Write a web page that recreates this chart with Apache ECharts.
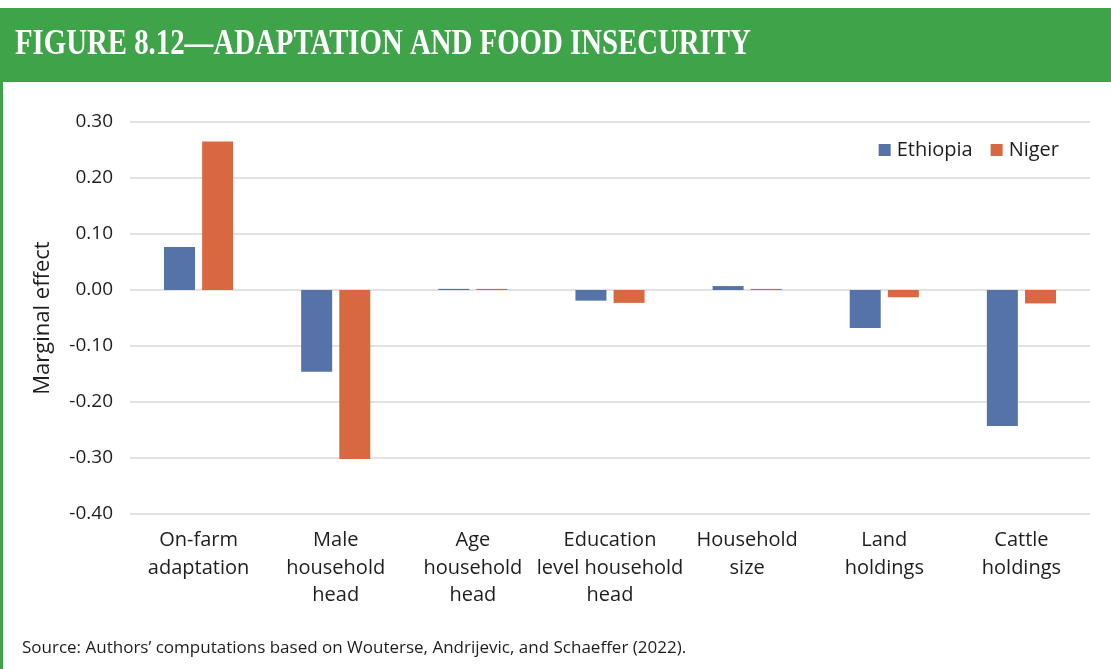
<!DOCTYPE html>
<html>
<head>
<meta charset="utf-8">
<script src="https://cdn.jsdelivr.net/npm/echarts@6/dist/echarts.min.js"></script>
<style>
  html, body { margin: 0; padding: 0; background: #ffffff; }
  #chart { width: 1111px; height: 669px; }
</style>
</head>
<body>
<div id="chart"></div>
<script>
// Determinants of food insecurity: marginal effects by country
const categories = [
  'On-farm\nadaptation',
  'Male\nhousehold\nhead',
  'Age\nhousehold\nhead',
  'Education\nlevel household\nhead',
  'Household\nsize',
  'Land\nholdings',
  'Cattle\nholdings'
];
const ethiopia = [0.077, -0.146, 0.002, -0.019, 0.007, -0.068, -0.243];
const niger    = [0.265, -0.302, 0.002, -0.023, 0.002, -0.013, -0.024];
const yTicks = { min: -0.4, max: 0.3, interval: 0.1 };

const titleText = 'FIGURE 8.12\u2014ADAPTATION AND FOOD INSECURITY';
const sourceText = 'Source: Authors\u2019 computations based on Wouterse, Andrijevic, and Schaeffer (2022).';

const GREEN = '#3fa34a';
const BLUE = '#5572a9';
const ORANGE = '#d86840';
const INK = '#1e1e1e';
const SANS = '"Open Sans", "Noto Sans", sans-serif';

const chart = echarts.init(document.getElementById('chart'), null, { renderer: 'canvas' });

chart.setOption({
  backgroundColor: '#ffffff',
  animation: false,
  graphic: [
    { type: 'rect', left: 0, top: 8, shape: { width: 1111, height: 74 }, style: { fill: GREEN }, z: 0 },
    { type: 'rect', left: 0, top: 82, shape: { width: 3, height: 587 }, style: { fill: GREEN }, z: 0 },
    {
      type: 'text', x: 15, y: 27, scaleX: 0.8,
      style: {
        text: titleText, fill: '#ffffff',
        font: 'bold 36px "Liberation Serif", "DejaVu Serif", serif'
      }, z: 2
    },
    {
      type: 'text', left: 22, top: 640,
      style: { text: sourceText, fill: INK, font: '17px ' + SANS }, z: 2
    }
  ],
  legend: {
    right: 47, top: 135,
    itemWidth: 12, itemHeight: 12, itemGap: 18,
    icon: 'rect',
    textStyle: { fontFamily: SANS, fontSize: 20, color: INK, padding: [0, 0, 0, 1] },
    data: ['Ethiopia', 'Niger']
  },
  grid: { left: 130, right: 21, top: 122, bottom: 155, containLabel: false },
  xAxis: {
    type: 'category',
    data: categories,
    axisLine: { show: false, onZero: false },
    axisTick: { show: false },
    axisLabel: {
      interval: 0, margin: 13,
      fontFamily: SANS, fontSize: 20, color: INK, lineHeight: 27.5
    },
    splitLine: { show: false }
  },
  yAxis: {
    type: 'value',
    min: yTicks.min, max: yTicks.max, interval: yTicks.interval,
    name: 'Marginal effect',
    nameLocation: 'middle', nameGap: 76, nameRotate: 90,
    nameTextStyle: { fontFamily: SANS, fontSize: 22, color: INK },
    axisLine: { show: false },
    axisTick: { show: false },
    axisLabel: {
      margin: 17, fontFamily: SANS, fontSize: 19, color: INK,
      formatter: v => v.toFixed(2)
    },
    splitLine: { lineStyle: { color: '#d9d9d9', width: 1.5 } }
  },
  series: [
    {
      name: 'Ethiopia', type: 'bar', data: ethiopia,
      barWidth: 31, barGap: '23%',
      itemStyle: { color: BLUE }
    },
    {
      name: 'Niger', type: 'bar', data: niger,
      barWidth: 31,
      itemStyle: { color: ORANGE }
    }
  ]
});
</script>
</body>
</html>
